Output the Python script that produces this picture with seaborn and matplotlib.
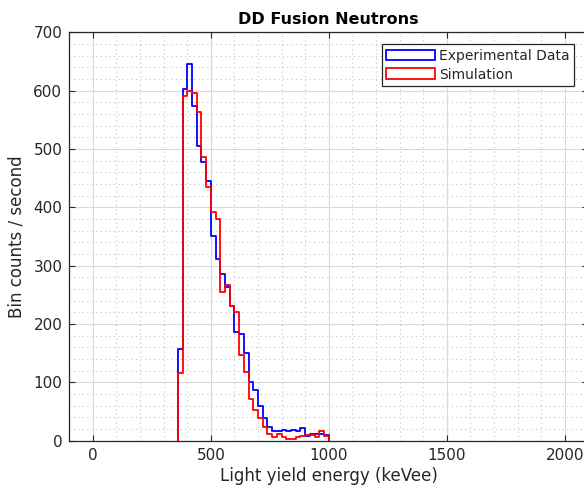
import numpy as np
import pandas as pd
import matplotlib
matplotlib.use("Agg")
import matplotlib.pyplot as plt
from matplotlib.patches import Patch
from matplotlib.ticker import MultipleLocator
import seaborn as sns

# ---- data ----
bin_edges = list(range(360, 1001, 20))  # 32 bins of 20 keVee
experimental = [157, 602, 645, 573, 505, 478, 445, 350, 312, 286, 264, 231,
                186, 182, 150, 101, 87, 59, 38, 24, 17, 17, 18, 17,
                19, 16, 22, 8, 11, 11, 11, 9]
simulation = [116, 591, 599, 596, 564, 487, 435, 392, 380, 255, 267, 231,
              221, 147, 118, 72, 52, 38, 24, 11, 7, 11, 7, 3,
              3, 7, 8, 10, 10, 7, 17, 8]
series_names = ["Experimental Data", "Simulation"]
series_colors = ["#0000ff", "#ff0000"]
title = "DD Fusion Neutrons"
xlabel = "Light yield energy (keVee)"
ylabel = "Bin counts / second"
x_ticks = [0, 500, 1000, 1500, 2000]
y_ticks = [0, 100, 200, 300, 400, 500, 600, 700]

edges = np.array(bin_edges, dtype=float)
centers = (edges[:-1] + edges[1:]) / 2
binwidth = edges[1] - edges[0]
df = pd.DataFrame({
    "energy": np.concatenate([centers, centers]),
    "rate": experimental + simulation,
    "series": [series_names[0]] * len(centers) + [series_names[1]] * len(centers),
})

sns.set_theme(style="white")
plt.rcParams["font.family"] = ["DejaVu Sans"]
txt = "#262626"

W, H = 584, 490
fig = plt.figure(figsize=(W / 100, H / 100), dpi=100)
ax_left, ax_right, ax_top, ax_bottom = 69.3, 588.3, 32.3, 440.6
ax = fig.add_axes([ax_left / W, (H - ax_bottom) / H,
                   (ax_right - ax_left) / W, (ax_bottom - ax_top) / H])

for name, col in zip(series_names, series_colors):
    sub = df[df["series"] == name]
    sns.histplot(data=sub, x="energy", weights="rate", binwidth=binwidth,
                 binrange=(edges[0], edges[-1]),
                 element="step", fill=False, color=col, linewidth=1.3,
                 ax=ax, legend=False)
    line = ax.lines[-1]
    xs, ys = line.get_data()
    xs = np.asarray(xs, float)
    ys = np.asarray(ys, float)
    line.set_data(np.r_[xs[0], xs, xs[-1]], np.r_[0.0, ys, 0.0])

ax.set_xlim(-100, 2100)
ax.set_ylim(0, 700)
ax.set_xticks(x_ticks)
ax.set_yticks(y_ticks)
ax.xaxis.set_minor_locator(MultipleLocator(100))
ax.yaxis.set_minor_locator(MultipleLocator(20))
ax.grid(which="major", color="#d9d9d9", linewidth=0.8, linestyle="-")
ax.grid(which="minor", color="#c4c4c4", linewidth=0.8, linestyle=(0, (1, 3)))
ax.set_axisbelow(True)
ax.tick_params(which="major", direction="in", length=4, width=0.8,
               top=True, right=True, bottom=True, left=True,
               color=txt, labelcolor=txt, labelsize=11, pad=5)
ax.tick_params(which="minor", length=0)
for s in ax.spines.values():
    s.set_color(txt)
    s.set_linewidth(0.9)

ax.set_title(title, fontsize=11.5, fontweight="bold", color="black", pad=6)
ax.set_xlabel(xlabel, fontsize=12, color=txt, labelpad=3)
ax.set_ylabel(ylabel, fontsize=12, color=txt, labelpad=6)

handles = [Patch(facecolor="none", edgecolor=c, linewidth=1.3) for c in series_colors]
leg = ax.legend(handles, series_names, loc="upper right", fontsize=10,
                bbox_to_anchor=(573.5 / W, 1 - 44.5 / H),
                bbox_transform=fig.transFigure,
                frameon=True, fancybox=False, framealpha=1, edgecolor=txt,
                handlelength=3.5, handleheight=0.8, handletextpad=0.3,
                borderpad=0.3, labelspacing=0.35, borderaxespad=0.0)
leg.get_frame().set_linewidth(0.9)
for t in leg.get_texts():
    t.set_color(txt)

fig.savefig("out.png", dpi=100)
